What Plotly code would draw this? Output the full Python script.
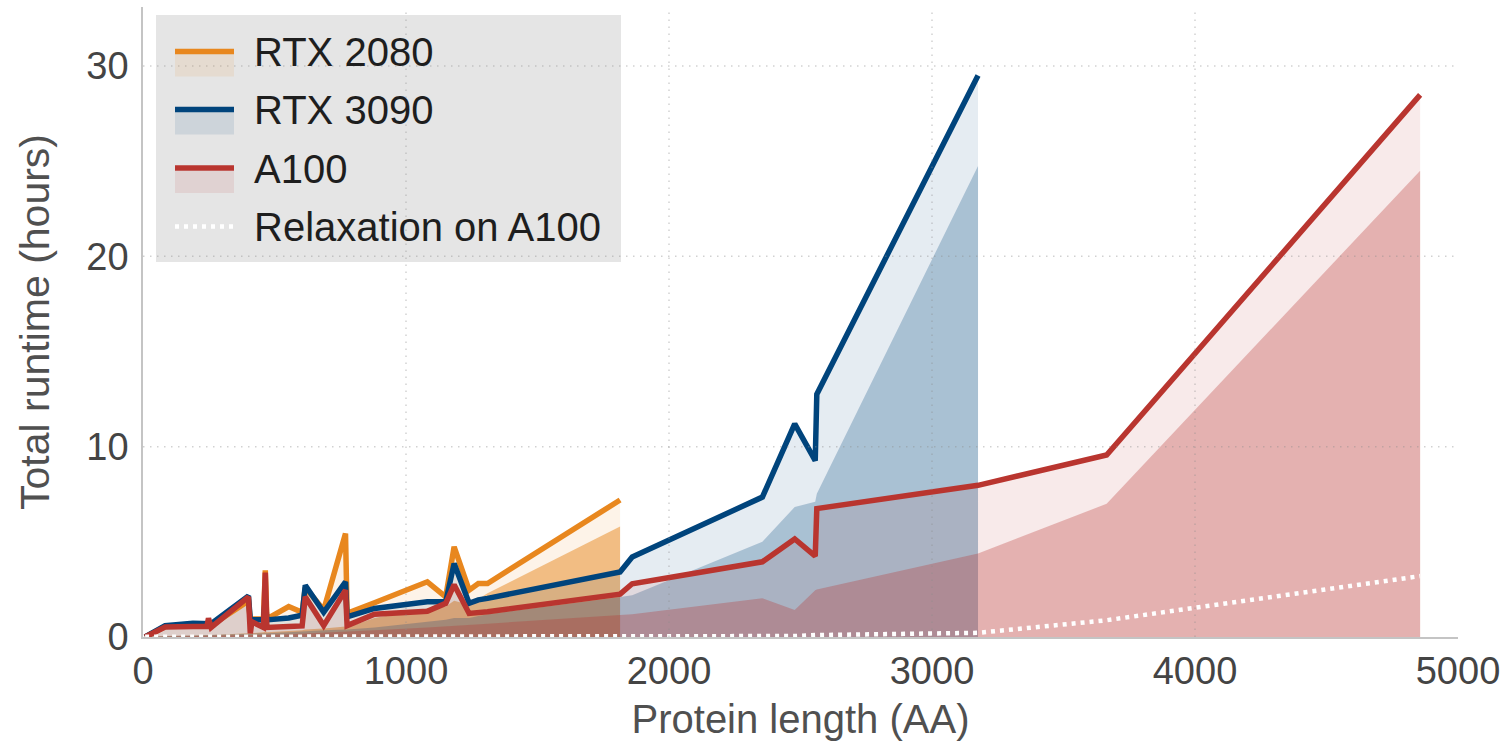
import plotly.graph_objects as go

# ---------------- data ----------------
lengths = [8, 84, 190, 243, 249, 259, 401, 408, 414, 458, 465, 471, 554, 605, 617,
           687, 770, 776, 880, 1081, 1151, 1183, 1240, 1275, 1310, 1814, 1860,
           2355, 2478, 2556, 2562, 3175, 3664, 4856]

rtx2080_total = [0.0, 0.55, 0.65, 0.6, 0.8, 0.6, 1.9, 0.9, 0.95, 0.95, 3.5, 0.95, 1.6, 1.3, 2.6,
                 1.42, 5.44, 1.24, 1.8, 2.9, 2.11, 4.74, 2.46, 2.81, 2.81, 7.2]
rtx2080_inner = [0.0, 0.05, 0.08, 0.1, 0.1, 0.1, 0.2, 0.2, 0.2, 0.25, 0.3, 0.25, 0.3, 0.35, 0.4,
                 0.45, 0.55, 0.5, 1.0, 1.5, 1.6, 1.9, 1.7, 2.0, 2.3, 5.8]

rtx3090_total = [0.0, 0.6, 0.72, 0.65, 0.7, 0.7, 2.15, 0.9, 0.9, 0.9, 2.03, 0.9, 1.0, 1.15, 2.72,
                 1.3, 2.9, 1.06, 1.5, 1.85, 1.85, 3.86, 1.77, 1.95, 2.03, 3.42, 4.2,
                 7.35, 11.2, 9.27, 12.76, 29.5]
rtx3090_inner = [0.0, 0.05, 0.08, 0.1, 0.1, 0.1, 0.15, 0.15, 0.15, 0.2, 0.2, 0.2, 0.25, 0.3, 0.3,
                 0.35, 0.4, 0.4, 0.5, 0.8, 0.9, 1.0, 1.0, 1.1, 1.2, 2.1, 2.2,
                 5.0, 6.83, 7.1, 7.53, 24.75]

a100_total = [0.0, 0.52, 0.55, 0.55, 0.98, 0.5, 2.11, 0.19, 0.8, 0.5, 3.38, 0.5, 0.55, 0.58, 2.11,
              0.6, 2.46, 0.6, 1.2, 1.35, 1.77, 2.75, 1.24, 1.28, 1.33, 2.25, 2.8,
              3.95, 5.15, 4.25, 6.75, 7.97, 9.56, 28.48]
a100_inner = [0.0, 0.03, 0.05, 0.06, 0.06, 0.06, 0.1, 0.1, 0.1, 0.12, 0.12, 0.12, 0.15, 0.18, 0.2,
              0.22, 0.28, 0.28, 0.35, 0.5, 0.55, 0.6, 0.62, 0.66, 0.7, 1.15, 1.2,
              2.03, 1.42, 2.46, 2.5, 4.39, 7.0, 24.5]
a100_relax = [0.01, 0.01, 0.01, 0.01, 0.01, 0.01, 0.01, 0.01, 0.01, 0.01, 0.01, 0.01, 0.01, 0.01, 0.01,
              0.01, 0.02, 0.02, 0.02, 0.02, 0.02, 0.02, 0.02, 0.02, 0.02, 0.03, 0.03,
              0.04, 0.05, 0.1, 0.1, 0.22, 0.88, 3.2]

gpu_names = ["RTX 2080", "RTX 3090", "A100"]
relax_name = "Relaxation on A100"
x_ticks = [0, 1000, 2000, 3000, 4000, 5000]
y_ticks = [0, 10, 20, 30]
x_title = "Protein length (AA)"
y_title = "Total runtime (hours)"

# ---------------- style ----------------
COLORS = {"RTX 2080": (232, 135, 30), "RTX 3090": (0, 68, 124), "A100": (185, 53, 47)}
INNER_ALPHA = {"RTX 2080": 0.5, "RTX 3090": 0.26, "A100": 0.31}
LIGHT_ALPHA = 0.1
FONT = "Liberation Sans, Arial, Helvetica, sans-serif"

W, H = 1508, 744
L, R, T, B = 143, 50, 7, 107
PW, PH = W - L - R, H - T - B


def rgba(c, a):
    return f"rgba({c[0]},{c[1]},{c[2]},{a})"


def px_x(p):
    return (p - L) / PW


def px_y(p):
    return (H - B - p) / PH


series = {
    "RTX 2080": (rtx2080_total, rtx2080_inner),
    "RTX 3090": (rtx3090_total, rtx3090_inner),
    "A100": (a100_total, a100_inner),
}

fig = go.Figure()

# fills
for name in gpu_names:
    tot, inn = series[name]
    xs = lengths[:len(tot)]
    c = COLORS[name]
    fig.add_trace(go.Scatter(x=xs, y=tot, mode="lines", line=dict(width=0),
                             fill="tozeroy", fillcolor=rgba(c, LIGHT_ALPHA),
                             showlegend=False, hoverinfo="skip"))
    fig.add_trace(go.Scatter(x=xs, y=inn, mode="lines", line=dict(width=0),
                             fill="tozeroy", fillcolor=rgba(c, INNER_ALPHA[name]),
                             showlegend=False, hoverinfo="skip"))

# lines
for name in gpu_names:
    tot, _ = series[name]
    xs = lengths[:len(tot)]
    fig.add_trace(go.Scatter(x=xs, y=tot, mode="lines", name=name,
                             line=dict(color=rgba(COLORS[name], 1), width=5.5),
                             showlegend=False))

fig.add_trace(go.Scatter(x=lengths[:len(a100_relax)], y=a100_relax, mode="lines",
                         name=relax_name,
                         line=dict(color="white", width=4.5, dash="4px,5px"),
                         showlegend=False))

shapes = []
# legend box
shapes.append(dict(type="rect", xref="paper", yref="paper",
                   x0=px_x(156), x1=px_x(621), y0=px_y(262), y1=px_y(15),
                   fillcolor="#E5E5E5", line=dict(width=0), layer="above"))
# grid lines (drawn above the fills)
GRID = dict(color="rgba(140,140,140,0.4)", width=1.5, dash="1.5px,5.5px")
for v in x_ticks[1:-1]:
    shapes.append(dict(type="line", xref="x", yref="paper", x0=v, x1=v, y0=0, y1=1,
                       line=GRID, layer="above"))
for v in y_ticks[1:]:
    shapes.append(dict(type="line", xref="paper", yref="y", x0=0, x1=1, y0=v, y1=v,
                       line=GRID, layer="above"))

annotations = []
entry_y = [52, 110, 168.5, 227]
for i, name in enumerate(gpu_names):
    cy = entry_y[i] - 0.5
    c = COLORS[name]
    shapes.append(dict(type="rect", xref="paper", yref="paper",
                       x0=px_x(175), x1=px_x(234), y0=px_y(cy + 25), y1=px_y(cy + 2.5),
                       fillcolor=rgba(c, LIGHT_ALPHA), line=dict(width=0), layer="above"))
    shapes.append(dict(type="line", xref="paper", yref="paper",
                       x0=px_x(175), x1=px_x(234), y0=px_y(cy), y1=px_y(cy),
                       line=dict(color=rgba(c, 1), width=5.5), layer="above"))
shapes.append(dict(type="line", xref="paper", yref="paper",
                   x0=px_x(175), x1=px_x(234), y0=px_y(entry_y[3] - 0.5), y1=px_y(entry_y[3] - 0.5),
                   line=dict(color="white", width=4.5, dash="4px,5px"), layer="above"))

for i, label in enumerate(gpu_names + [relax_name]):
    annotations.append(dict(text=label, xref="paper", yref="paper",
                            x=px_x(252), y=px_y(entry_y[i]), xanchor="left", yanchor="middle",
                            showarrow=False, font=dict(family=FONT, size=40, color="#1E1E1E")))

fig.update_layout(
    width=W, height=H,
    margin=dict(l=L, r=R, t=T, b=B),
    paper_bgcolor="white", plot_bgcolor="white",
    font=dict(family=FONT, color="#444444"),
    shapes=shapes, annotations=annotations,
    showlegend=False,
    xaxis=dict(range=[0, 5000], tickvals=x_ticks, showgrid=False, zeroline=False,
               showline=True, linecolor="#C4C4C4", linewidth=1.5, ticks="",
               tickfont=dict(size=38, color="#444444"),
               title=dict(text=x_title, font=dict(size=40, color="#505050"), standoff=14)),
    yaxis=dict(range=[0, 33.1], tickvals=y_ticks, showgrid=False, zeroline=False,
               showline=True, linecolor="#C4C4C4", linewidth=1.5, ticks="",
               tickfont=dict(size=38, color="#444444"), ticklabelstandoff=5,
               title=dict(text=y_title, font=dict(size=41, color="#505050"), standoff=24)),
)

fig.write_html("out.html")
